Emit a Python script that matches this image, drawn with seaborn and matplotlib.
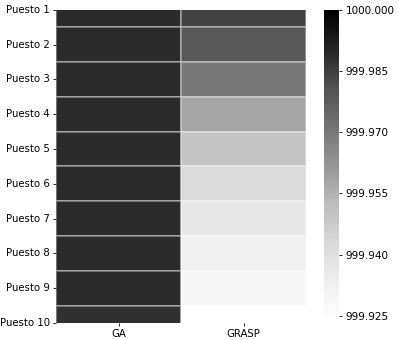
import seaborn as sns
import matplotlib.pyplot as plt
import pandas as pd

# datos
puestos = ['Puesto 1', 'Puesto 2', 'Puesto 3', 'Puesto 4', 'Puesto 5',
           'Puesto 6', 'Puesto 7', 'Puesto 8', 'Puesto 9', 'Puesto 10']
ga = [999.989, 999.989, 999.989, 999.989, 999.989,
      999.989, 999.989, 999.989, 999.989, 999.988]
grasp = [999.984, 999.979, 999.970, 999.958, 999.950,
         999.9426, 999.937, 999.933, 999.9286, 999.9237]
cbar_ticks = [999.925, 999.940, 999.955, 999.970, 999.985, 1000.000]

df = pd.DataFrame({'GA': ga, 'GRASP': grasp}, index=puestos)

fig = plt.figure(figsize=(3.98, 3.40), dpi=100)
ax = fig.add_axes([0.141, 0.05, 0.628, 0.921])
cax = fig.add_axes([0.814, 0.053, 0.038, 0.918])

sns.heatmap(df, ax=ax, cbar_ax=cax, cmap='Greys',
            vmin=999.9235, vmax=1000.0,
            linewidths=0.25, linecolor=(1, 1, 1, 0.35),
            cbar_kws={'ticks': cbar_ticks, 'format': '%.3f'})

# recorte de filas como en el original
ax.set_ylim(9.5, 0.5)

ax.tick_params(axis='both', labelsize=7.3, length=2.5, width=0.6, pad=2)
ax.set_yticklabels(puestos, rotation=0)
ax.set_xticklabels(df.columns, rotation=0)
cax.tick_params(labelsize=7.5, length=2.5, width=0.6, pad=2)

fig.savefig('out.png', dpi=100)
